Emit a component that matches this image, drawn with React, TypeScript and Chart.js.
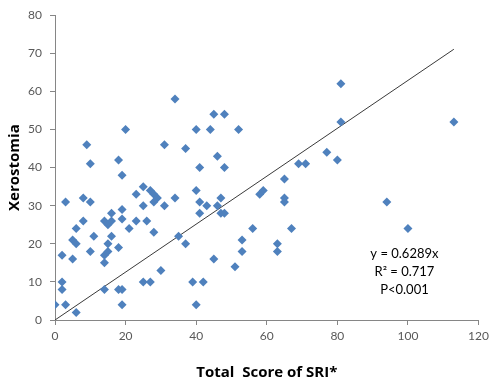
import React, { useEffect, useRef } from "react";
import { Chart, registerables } from "chart.js";

Chart.register(...registerables);

// SRI total score (x) and Xerostomia score (y)
const sriScores = [
  0, 2, 2, 2, 3, 3, 6, 5, 5, 6, 6, 8, 8, 10, 10, 11, 9, 10, 14, 14,
  14, 15, 15, 14, 15, 16, 16, 16, 18, 18, 19, 19, 19, 19, 18, 19, 20, 21, 23, 23,
  25, 25, 25, 27, 26, 27, 28, 29, 28, 28, 30, 31, 31, 34, 34, 35, 37, 37, 39, 40,
  40, 40, 41, 41, 41, 42, 43, 44, 45, 45, 46, 46, 47, 47, 48, 48, 48, 51, 52, 53,
  53, 56, 58, 59, 63, 63, 65, 65, 65, 67, 69, 71, 77, 80, 81, 81, 94, 100, 113,
];
const xerostomiaScores = [
  4, 8, 10, 17, 4, 31, 2, 16, 21, 20, 24, 26, 32, 31, 18, 22, 46, 41, 8, 15,
  17, 18, 20, 26, 25, 26, 28, 22, 19, 8, 8, 4, 29, 26.5, 42, 38, 50, 24, 33, 26,
  35, 30, 10, 10, 26, 34, 33, 32, 31, 23, 13, 30, 46, 58, 32, 22, 20, 45, 10, 4,
  34, 50, 40, 31, 28, 10, 30, 50, 54, 16, 43, 30, 32, 28, 28, 54, 40, 14, 50, 21,
  18, 24, 33, 34, 20, 18, 37, 32, 31, 24, 41, 41, 44, 42, 62, 52, 31, 24, 52,
];

const slope = 0.6289;
const fitLineX = [0, 113];
const annotationLines = ["y = 0.6289x", "R\u00B2 = 0.717", "P<0.001"];
const annotationAnchor = { x: 99, y: [17.4, 12.6, 7.9] };

const xTitle = "Total  Score of SRI*";
const yTitle = "Xerostomia";

export default function App() {
  const ref = useRef<HTMLCanvasElement | null>(null);

  useEffect(() => {
    document.body.style.margin = "0";
    const canvas = ref.current;
    if (!canvas) return;

    const points = sriScores.map((x, i) => ({ x, y: xerostomiaScores[i] }));
    const linePts = fitLineX.map((x) => ({ x, y: slope * x }));

    const annotationPlugin = {
      id: "annot",
      afterDatasetsDraw(chart: any) {
        const { ctx, scales } = chart;
        const px = scales.x.getPixelForValue(annotationAnchor.x);
        ctx.save();
        ctx.fillStyle = "#000000";
        ctx.font = "13px Lato, 'Open Sans', sans-serif";
        ctx.textAlign = "center";
        ctx.textBaseline = "middle";
        annotationLines.forEach((t, i) => {
          ctx.fillText(t, px, scales.y.getPixelForValue(annotationAnchor.y[i]));
        });
        ctx.restore();
      },
    };

    const tickFont = { family: "Lato, 'Open Sans', sans-serif", size: 12 };
    const titleFont = { family: "'Open Sans', Lato, sans-serif", size: 15, weight: "bold" as const };

    const chart = new Chart(canvas, {
      type: "scatter",
      data: {
        datasets: [
          {
            type: "scatter",
            data: points,
            pointStyle: "rectRot",
            pointRadius: 4.5,
            backgroundColor: "#4F81BD",
            borderColor: "#4F81BD",
            borderWidth: 0,
          },
          {
            type: "line",
            data: linePts,
            borderColor: "#3a3a3a",
            borderWidth: 1,
            pointRadius: 0,
            fill: false,
          } as any,
        ],
      },
      options: {
        animation: false,
        responsive: false,
        maintainAspectRatio: false,
        layout: { padding: { left: 0, right: 10, top: 13, bottom: 0 } },
        plugins: { legend: { display: false }, tooltip: { enabled: false } },
        scales: {
          x: {
            type: "linear",
            min: 0,
            max: 120,
            ticks: { stepSize: 20, color: "#595959", font: tickFont, padding: 4 },
            grid: { display: true, drawOnChartArea: false, drawTicks: true, tickLength: 5, color: "#868686" },
            border: { color: "#868686" },
            title: { display: true, text: xTitle, color: "#000", font: titleFont, padding: { top: 3, bottom: 0 } },
            afterFit: (s: any) => { s.height = 62; },
          },
          y: {
            type: "linear",
            min: 0,
            max: 80,
            ticks: { stepSize: 10, color: "#595959", font: tickFont, padding: 8 },
            grid: { display: true, drawOnChartArea: false, drawTicks: true, tickLength: 5, color: "#868686" },
            border: { color: "#868686" },
            title: { display: true, text: yTitle, color: "#000", font: titleFont, padding: { top: 6, bottom: 0 } },
            afterFit: (s: any) => { s.width = 55; },
          },
        },
      },
      plugins: [annotationPlugin],
    });

    return () => chart.destroy();
  }, []);

  return (
    <div style={{ width: 493, height: 382 }}>
      <canvas ref={ref} width={493} height={382} style={{ display: "block" }} />
    </div>
  );
}
